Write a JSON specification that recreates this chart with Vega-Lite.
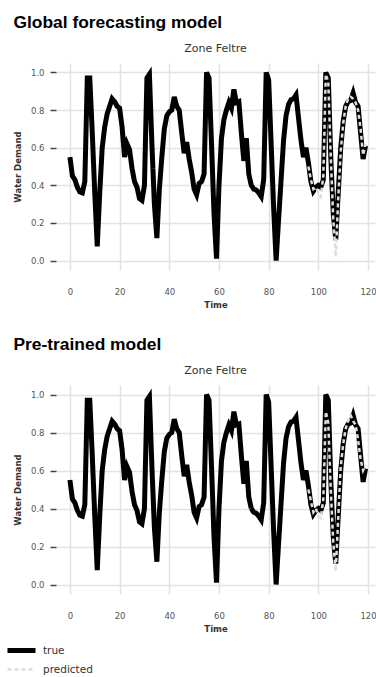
{
  "$schema": "https://vega.github.io/schema/vega-lite/v6.json",
  "padding": {"left": 12, "top": 13, "right": 2, "bottom": 0},
  "background": "white",
  "config": {
    "view": {"stroke": null},
    "axis": {
      "domain": false,
      "gridColor": "#e2e2e2",
      "gridWidth": 1.5,
      "labelFont": "DejaVu Sans",
      "labelFontSize": 8.5,
      "labelColor": "#555555",
      "titleFont": "DejaVu Sans",
      "titleFontSize": 8.5,
      "titleFontWeight": "bold",
      "titleColor": "#333333",
      "tickColor": "#444444",
      "tickWidth": 1.5,
      "tickSize": 6
    },
    "legend": {
      "labelFont": "DejaVu Sans",
      "labelFontSize": 10.5,
      "labelColor": "#333333",
      "padding": 0
    }
  },
  "datasets": {
    "truth": [
      {"t":0,"v":0.55},{"t":1,"v":0.45},{"t":2,"v":0.43},{"t":3,"v":0.39},{"t":4,"v":0.365},{"t":5,"v":0.36},{"t":6,"v":0.42},{"t":7,"v":0.97},{"t":8,"v":0.97},{"t":9,"v":0.68},
      {"t":10,"v":0.36},{"t":11,"v":0.075},{"t":12,"v":0.36},{"t":13,"v":0.6},{"t":14,"v":0.71},{"t":15,"v":0.78},{"t":16,"v":0.82},{"t":17,"v":0.86},{"t":18,"v":0.845},{"t":19,"v":0.82},
      {"t":20,"v":0.81},{"t":21,"v":0.71},{"t":22,"v":0.55},{"t":23,"v":0.62},{"t":24,"v":0.59},{"t":25,"v":0.49},{"t":26,"v":0.42},{"t":27,"v":0.39},{"t":28,"v":0.33},{"t":29,"v":0.32},
      {"t":30,"v":0.4},{"t":31,"v":0.97},{"t":32,"v":0.99},{"t":33,"v":0.62},{"t":34,"v":0.3},{"t":35,"v":0.12},{"t":36,"v":0.38},{"t":37,"v":0.55},{"t":38,"v":0.7},{"t":39,"v":0.77},
      {"t":40,"v":0.79},{"t":41,"v":0.8},{"t":42,"v":0.87},{"t":43,"v":0.82},{"t":44,"v":0.8},{"t":45,"v":0.68},{"t":46,"v":0.57},{"t":47,"v":0.63},{"t":48,"v":0.54},{"t":49,"v":0.47},
      {"t":50,"v":0.38},{"t":51,"v":0.35},{"t":52,"v":0.41},{"t":53,"v":0.42},{"t":54,"v":0.46},{"t":55,"v":1.0},{"t":56,"v":0.97},{"t":57,"v":0.62},{"t":58,"v":0.25},{"t":59,"v":0.01},
      {"t":60,"v":0.4},{"t":61,"v":0.65},{"t":62,"v":0.75},{"t":63,"v":0.8},{"t":64,"v":0.84},{"t":65,"v":0.81},{"t":66,"v":0.91},{"t":67,"v":0.84},{"t":68,"v":0.845},{"t":69,"v":0.68},
      {"t":70,"v":0.53},{"t":71,"v":0.65},{"t":72,"v":0.46},{"t":73,"v":0.4},{"t":74,"v":0.38},{"t":75,"v":0.375},{"t":76,"v":0.36},{"t":77,"v":0.34},{"t":78,"v":0.43},{"t":79,"v":1.0},
      {"t":80,"v":0.96},{"t":81,"v":0.62},{"t":82,"v":0.28},{"t":83,"v":0.0},{"t":84,"v":0.22},{"t":85,"v":0.43},{"t":86,"v":0.64},{"t":87,"v":0.77},{"t":88,"v":0.83},{"t":89,"v":0.855},
      {"t":90,"v":0.86},{"t":91,"v":0.88},{"t":92,"v":0.76},{"t":93,"v":0.64},{"t":94,"v":0.55},{"t":95,"v":0.6},{"t":96,"v":0.52},{"t":97,"v":0.42},{"t":98,"v":0.37},{"t":99,"v":0.39},
      {"t":100,"v":0.4},{"t":101,"v":0.39},{"t":102,"v":0.43},{"t":103,"v":1.0},{"t":104,"v":0.97},{"t":105,"v":0.55},{"t":106,"v":0.25},{"t":107,"v":0.11},{"t":108,"v":0.36},{"t":109,"v":0.6},
      {"t":110,"v":0.74},{"t":111,"v":0.82},{"t":112,"v":0.845},{"t":113,"v":0.85},{"t":114,"v":0.89},{"t":115,"v":0.84},{"t":116,"v":0.82},{"t":117,"v":0.68},{"t":118,"v":0.54},{"t":119,"v":0.61}
    ],
    "predGlobal": [
      {"t":96,"v":0.5},{"t":97,"v":0.43},{"t":98,"v":0.38},{"t":99,"v":0.39},{"t":100,"v":0.36},{"t":101,"v":0.34},{"t":102,"v":0.45},{"t":103,"v":0.99},{"t":104,"v":0.95},{"t":105,"v":0.55},
      {"t":106,"v":0.22},{"t":107,"v":0.02},{"t":108,"v":0.33},{"t":109,"v":0.58},{"t":110,"v":0.73},{"t":111,"v":0.82},{"t":112,"v":0.86},{"t":113,"v":0.87},{"t":114,"v":0.86},{"t":115,"v":0.84},
      {"t":116,"v":0.8},{"t":117,"v":0.7},{"t":118,"v":0.56},{"t":119,"v":0.62}
    ],
    "predPretrained": [
      {"t":96,"v":0.5},{"t":97,"v":0.44},{"t":98,"v":0.38},{"t":99,"v":0.4},{"t":100,"v":0.36},{"t":101,"v":0.35},{"t":102,"v":0.45},{"t":103,"v":0.91},{"t":104,"v":0.85},{"t":105,"v":0.5},
      {"t":106,"v":0.22},{"t":107,"v":0.07},{"t":108,"v":0.35},{"t":109,"v":0.62},{"t":110,"v":0.74},{"t":111,"v":0.82},{"t":112,"v":0.86},{"t":113,"v":0.89},{"t":114,"v":0.86},{"t":115,"v":0.84},
      {"t":116,"v":0.76},{"t":117,"v":0.66},{"t":118,"v":0.6},{"t":119,"v":0.63}
    ]
  },
  "spacing": 26,
  "vconcat": [
    {
      "title": {"text": "Global forecasting model", "anchor": "start", "frame": "bounds", "font": "Liberation Sans", "fontSize": 17.4, "fontWeight": "bold", "color": "#000000", "offset": 12},
      "vconcat": [
        {
          "title": {"text": "Zone Feltre", "anchor": "middle", "font": "DejaVu Sans", "fontSize": 11, "fontWeight": "normal", "color": "#333333", "offset": 9},
          "width": 319,
          "height": 207,
          "layer": [
            {
              "data": {"name": "truth"},
              "mark": {"type": "line", "clip": true},
              "encoding": {
                "x": {"field": "t", "type": "quantitative", "title": "Time", "scale": {"domain": [-5.6, 122.8], "nice": false, "zero": false}, "axis": {"values": [0,20,40,60,80,100,120], "ticks": false, "labelPadding": 17.5, "titlePadding": 4, "grid": true}},
                "y": {"field": "v", "type": "quantitative", "title": "Water Demand", "scale": {"domain": [-0.05, 1.05], "nice": false}, "axis": {"values": [0,0.2,0.4,0.6,0.8,1.0], "format": ".1f", "labelPadding": 6, "titlePadding": 8}},
                "color": {"datum": "true", "type": "nominal", "scale": {"domain": ["true", "predicted"], "range": ["#000000", "#dddddd"]}, "legend": {"title": null, "orient": "none", "legendX": -44, "legendY": 578, "direction": "vertical", "symbolType": "M-2,0H2", "symbolSize": 196, "rowPadding": 0, "labelOffset": 12}},
                "strokeDash": {"datum": "true", "type": "nominal", "scale": {"domain": ["true", "predicted"], "range": [[1, 0], [4, 3]]}},
                "strokeWidth": {"datum": "true", "type": "nominal", "scale": {"domain": ["true", "predicted"], "range": [5, 2.5]}}
              }
            },
            {
              "data": {"name": "predGlobal"},
              "mark": {"type": "line", "clip": true},
              "encoding": {
                "x": {"field": "t", "type": "quantitative"},
                "y": {"field": "v", "type": "quantitative"},
                "color": {"datum": "predicted", "type": "nominal"},
                "strokeDash": {"datum": "predicted", "type": "nominal"},
                "strokeWidth": {"datum": "predicted", "type": "nominal"}
              }
            }
          ]
        }
      ]
    },
    {
      "title": {"text": "Pre-trained model", "anchor": "start", "frame": "bounds", "font": "Liberation Sans", "fontSize": 17.4, "fontWeight": "bold", "color": "#000000", "offset": 12},
      "vconcat": [
        {
          "title": {"text": "Zone Feltre", "anchor": "middle", "font": "DejaVu Sans", "fontSize": 11, "fontWeight": "normal", "color": "#333333", "offset": 9},
          "width": 319,
          "height": 209,
          "layer": [
            {
              "data": {"name": "truth"},
              "mark": {"type": "line", "clip": true},
              "encoding": {
                "x": {"field": "t", "type": "quantitative", "title": "Time", "scale": {"domain": [-5.6, 122.8], "nice": false, "zero": false}, "axis": {"values": [0,20,40,60,80,100,120], "ticks": false, "labelPadding": 17.5, "titlePadding": 4, "grid": true}},
                "y": {"field": "v", "type": "quantitative", "title": "Water Demand", "scale": {"domain": [-0.05, 1.05], "nice": false}, "axis": {"values": [0,0.2,0.4,0.6,0.8,1.0], "format": ".1f", "labelPadding": 6, "titlePadding": 8}},
                "color": {"datum": "true", "type": "nominal"},
                "strokeDash": {"datum": "true", "type": "nominal"},
                "strokeWidth": {"datum": "true", "type": "nominal"}
              }
            },
            {
              "data": {"name": "predPretrained"},
              "mark": {"type": "line", "clip": true},
              "encoding": {
                "x": {"field": "t", "type": "quantitative"},
                "y": {"field": "v", "type": "quantitative"},
                "color": {"datum": "predicted", "type": "nominal"},
                "strokeDash": {"datum": "predicted", "type": "nominal"},
                "strokeWidth": {"datum": "predicted", "type": "nominal"}
              }
            }
          ]
        }
      ]
    }
  ]
}
